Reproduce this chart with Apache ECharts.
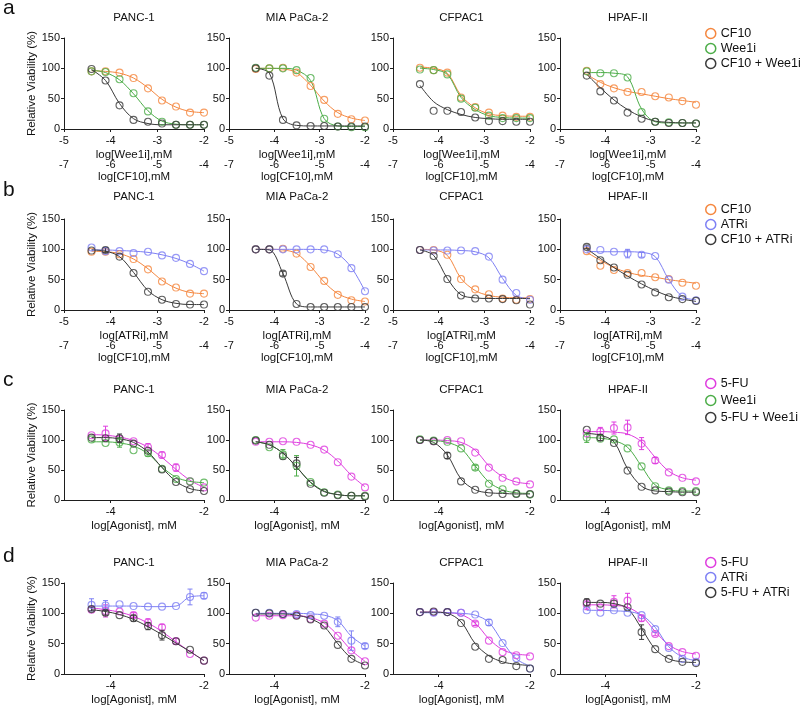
<!DOCTYPE html>
<html>
<head>
<meta charset="utf-8">
<script src="https://cdn.jsdelivr.net/npm/echarts@6/dist/echarts.min.js"></script>
<style>
html,body{margin:0;padding:0;background:#fff;}
#chart{width:800px;height:711px;}
</style>
</head>
<body>
<div id="chart"></div>
<script>
// ---------- shared axis values ----------
const xLogConc = [-4.41, -4.11, -3.81, -3.51, -3.20, -2.90, -2.60, -2.30, -2.00];
const cellLines = ['PANC-1', 'MIA PaCa-2', 'CFPAC1', 'HPAF-II'];
const panelLetters = ['a', 'b', 'c', 'd'];
const xTicksInhibitor = [-5, -4, -3, -2];
const xTicksCF10 = [-7, -6, -5, -4];
const xTicksAgonist = [-4, -2];
const yTicks = [0, 50, 100, 150];

// ---------- row a : CF10 / Wee1i ----------
const aCF10 = [
  [95, 95, 93, 84, 67, 47, 37, 27, 27],
  [99, 100, 101, 93, 71, 48, 25, 16, 14],
  [101, 97, 93, 52, 36, 27, 22, 20, 20],
  [96, 74, 67, 61, 61, 54, 52, 46, 40]
];
const aCF10Fit = [
  [96, 95, 92, 84, 68, 49, 36, 29, 27],
  [100, 100, 99, 93, 72, 46, 27, 18, 14],
  [102, 100, 92, 55, 35, 25, 22, 21, 21],
  [90, 77, 68, 62, 58, 54, 50, 47, 44]
];
const aWee1i = [
  [95, 94, 82, 59, 29, 12, 7, 7, 7],
  [101, 100, 100, 97, 84, 17, 4, 3, 3],
  [98, 97, 90, 50, 35, 22, 18, 18, 18],
  [95, 92, 92, 85, 28, 12, 11, 10, 9]
];
const aWee1iFit = [
  [97, 93, 81, 58, 30, 13, 8, 7, 7],
  [100, 100, 100, 97, 80, 17, 5, 4, 4],
  [100, 98, 90, 52, 32, 22, 19, 18, 18],
  [93, 93, 92, 86, 33, 12, 10, 10, 10]
];
const aCombo = [
  [99, 80, 39, 15, 12, 9, 7, 7, 7],
  [100, 88, 15, 6, 5, 5, 4, 4, 4],
  [74, 30, 30, 28, 19, 13, 13, 12, 12],
  [88, 62, 47, 27, 17, 12, 10, 10, 9]
];
const aComboFit = [
  [98, 80, 42, 17, 9, 7, 7, 7, 7],
  [100, 92, 17, 6, 5, 5, 5, 5, 5],
  [72, 45, 32, 24, 19, 17, 16, 16, 16],
  [90, 68, 48, 32, 20, 13, 11, 10, 10]
];

// ---------- row b : CF10 / ATRi ----------
const bCF10 = [
  [96, 96, 92, 84, 67, 47, 37, 27, 27],
  [100, 100, 101, 93, 71, 48, 25, 16, 14],
  [99, 99, 91, 51, 34, 26, 19, 17, 18],
  [97, 73, 66, 61, 61, 54, 51, 45, 40]
];
const bCF10Fit = [
  [97, 96, 93, 84, 68, 49, 36, 29, 27],
  [100, 100, 99, 93, 72, 46, 27, 18, 14],
  [100, 99, 90, 52, 32, 24, 21, 20, 20],
  [95, 82, 70, 62, 57, 54, 50, 47, 44]
];
const bATRi = [
  [103, 97, 97, 94, 96, 90, 86, 76, 64],
  [100, 100, 100, 100, 100, 100, 92, 69, 31],
  [99, 98, 98, 98, 97, 88, 50, 28, 17],
  [100, 99, 96, 93, 91, 89, 50, 22, 16]
];
const bATRiFit = [
  [99, 99, 98, 97, 95, 91, 85, 76, 64],
  [100, 100, 100, 100, 100, 99, 92, 70, 31],
  [99, 99, 99, 98, 96, 86, 52, 24, 18],
  [97, 96, 96, 96, 95, 88, 50, 22, 17]
];
const bATRiErr = [
  [0, 0, 0, 0, 0, 0, 0, 0, 0],
  [0, 0, 0, 0, 0, 0, 0, 0, 0],
  [0, 0, 0, 0, 0, 0, 0, 0, 0],
  [0, 0, 0, 7, 4, 0, 0, 0, 0]
];
const bCombo = [
  [98, 99, 88, 61, 30, 17, 10, 9, 9],
  [100, 100, 60, 10, 5, 5, 5, 5, 5],
  [99, 89, 51, 24, 19, 19, 18, 16, 9],
  [104, 82, 70, 58, 42, 29, 21, 18, 15]
];
const bComboFit = [
  [99, 97, 88, 62, 32, 17, 11, 9, 9],
  [100, 99, 60, 10, 5, 5, 5, 5, 5],
  [99, 90, 52, 25, 20, 19, 19, 19, 19],
  [101, 85, 70, 56, 43, 32, 23, 18, 14]
];
const bComboErr = [
  [0, 4, 0, 0, 0, 0, 0, 0, 0],
  [0, 0, 4, 0, 0, 0, 0, 0, 0],
  [0, 0, 0, 0, 0, 0, 0, 0, 0],
  [3, 0, 0, 0, 0, 0, 0, 0, 0]
];

// ---------- row c : 5-FU / Wee1i ----------
const c5FU = [
  [108, 111, 102, 98, 88, 75, 54, 31, 21],
  [97, 97, 98, 97, 92, 84, 63, 39, 21],
  [100, 98, 100, 98, 79, 54, 37, 31, 26],
  [111, 114, 120, 121, 94, 66, 46, 37, 31]
];
const c5FUFit = [
  [109, 108, 105, 99, 88, 71, 51, 33, 21],
  [97, 97, 97, 96, 92, 83, 65, 41, 22],
  [100, 100, 99, 96, 83, 57, 39, 30, 27],
  [114, 114, 113, 110, 97, 71, 48, 37, 33]
];
const c5FUErr = [
  [0, 12, 0, 0, 6, 5, 6, 0, 0],
  [0, 0, 0, 0, 0, 0, 0, 0, 0],
  [0, 0, 0, 0, 0, 0, 0, 0, 0],
  [0, 7, 10, 12, 10, 5, 0, 0, 0]
];
const cWee1i = [
  [101, 95, 96, 83, 78, 52, 35, 31, 29],
  [100, 88, 76, 57, 30, 13, 9, 7, 7],
  [101, 99, 97, 86, 54, 27, 18, 11, 9],
  [104, 102, 101, 86, 56, 23, 16, 15, 15]
];
const cWee1iFit = [
  [97, 97, 95, 90, 77, 55, 38, 31, 29],
  [97, 92, 78, 55, 30, 15, 9, 7, 7],
  [100, 99, 96, 86, 57, 30, 17, 12, 11],
  [104, 103, 99, 88, 56, 25, 17, 15, 15]
];
const cWee1iErr = [
  [0, 0, 8, 0, 5, 0, 0, 0, 0],
  [0, 0, 8, 17, 0, 0, 0, 0, 0],
  [0, 0, 0, 0, 4, 0, 0, 0, 0],
  [8, 0, 0, 0, 0, 0, 0, 0, 0]
];
const cCombo = [
  [104, 103, 103, 94, 82, 51, 30, 18, 15],
  [99, 92, 73, 61, 27, 12, 8, 7, 6],
  [100, 98, 74, 31, 17, 12, 10, 10, 10],
  [117, 104, 95, 49, 22, 16, 14, 13, 13]
];
const cComboFit = [
  [104, 104, 102, 96, 80, 54, 31, 19, 15],
  [97, 92, 78, 55, 29, 14, 9, 7, 7],
  [100, 96, 75, 35, 17, 12, 11, 10, 10],
  [111, 108, 97, 52, 23, 15, 14, 13, 13]
];
const cComboErr = [
  [0, 0, 7, 0, 0, 0, 0, 0, 0],
  [0, 0, 0, 10, 0, 0, 0, 0, 0],
  [0, 0, 5, 0, 0, 0, 0, 0, 0],
  [0, 5, 0, 0, 0, 0, 0, 0, 0]
];

// ---------- row d : 5-FU / ATRi ----------
const d5FU = [
  [106, 104, 103, 97, 85, 77, 54, 33, 22],
  [93, 96, 97, 97, 91, 83, 63, 39, 21],
  [102, 102, 102, 101, 83, 55, 36, 31, 29],
  [114, 110, 119, 121, 92, 66, 46, 36, 30]
];
const d5FUFit = [
  [109, 106, 102, 95, 84, 70, 53, 37, 22],
  [96, 96, 96, 96, 93, 84, 64, 39, 21],
  [102, 102, 101, 98, 84, 58, 40, 33, 31],
  [114, 114, 113, 110, 96, 70, 48, 37, 33]
];
const d5FUErr = [
  [0, 10, 0, 4, 6, 5, 5, 0, 0],
  [0, 0, 0, 0, 0, 0, 0, 0, 0],
  [0, 0, 0, 0, 3, 0, 0, 0, 0],
  [8, 0, 10, 12, 5, 3, 0, 0, 0]
];
const dATRi = [
  [114, 113, 115, 112, 111, 111, 112, 127, 129],
  [101, 101, 99, 99, 97, 96, 86, 55, 46],
  [102, 101, 102, 101, 98, 85, 51, 26, 9],
  [105, 101, 105, 101, 97, 74, 43, 25, 20]
];
const dATRiFit = [
  [112, 112, 112, 112, 111, 111, 112, 127, 129],
  [100, 100, 100, 100, 99, 97, 88, 62, 46],
  [101, 101, 101, 100, 97, 85, 53, 25, 13],
  [105, 105, 104, 103, 97, 77, 45, 28, 22]
];
const dATRiErr = [
  [10, 8, 0, 0, 0, 0, 0, 13, 5],
  [0, 0, 0, 0, 0, 0, 8, 16, 4],
  [0, 0, 0, 0, 0, 5, 0, 0, 0],
  [0, 0, 0, 0, 0, 0, 0, 0, 0]
];
const dCombo = [
  [107, 101, 97, 92, 79, 64, 54, 40, 22],
  [101, 100, 99, 96, 90, 80, 48, 25, 14],
  [102, 103, 102, 84, 45, 25, 23, 13, 9],
  [118, 116, 116, 110, 69, 41, 25, 20, 18]
];
const dComboFit = [
  [106, 103, 98, 90, 78, 65, 51, 37, 22],
  [99, 99, 99, 97, 91, 78, 50, 26, 15],
  [102, 102, 100, 86, 50, 30, 20, 16, 14],
  [118, 118, 116, 108, 75, 41, 25, 20, 19]
];
const dComboErr = [
  [3, 4, 0, 5, 6, 8, 0, 0, 0],
  [0, 0, 0, 0, 0, 0, 0, 0, 0],
  [0, 0, 0, 0, 0, 0, 0, 0, 0],
  [6, 0, 0, 0, 12, 0, 0, 0, 0]
];

// ---------- styling / layout ----------
const ORANGE = '#f5873f', GREEN = '#4cad48', DARK = '#3a3a3a', BLUE = '#7e80f4', MAGENTA = '#df3ddf';
const FONT = "'Liberation Sans', Arial, sans-serif";
const AX = '#1e1e1e';
const cols = [{left: 64, width: 140}, {left: 229, width: 136}, {left: 393, width: 137}, {left: 560, width: 136}];
const rowsLayout = [
  {top: 38, height: 91, titleY: 18, letterY: 8, legendTop: 27, legendGap: 2},
  {top: 219, height: 91, titleY: 197, letterY: 190, legendTop: 203, legendGap: 2},
  {top: 410, height: 90, titleY: 390, letterY: 380, legendTop: 377, legendGap: 4},
  {top: 583, height: 91, titleY: 563, letterY: 556, legendTop: 556, legendGap: 2}
];

const rowDefs = [
  {xName: 'log[Wee1i],mM', dual: true, series: [
    {name: 'CF10', color: ORANGE, pts: aCF10, fit: aCF10Fit},
    {name: 'Wee1i', color: GREEN, pts: aWee1i, fit: aWee1iFit},
    {name: 'CF10 + Wee1i', color: DARK, pts: aCombo, fit: aComboFit}]},
  {xName: 'log[ATRi],mM', dual: true, series: [
    {name: 'CF10', color: ORANGE, pts: bCF10, fit: bCF10Fit},
    {name: 'ATRi', color: BLUE, pts: bATRi, fit: bATRiFit, err: bATRiErr},
    {name: 'CF10 + ATRi', color: DARK, pts: bCombo, fit: bComboFit, err: bComboErr}]},
  {xName: 'log[Agonist], mM', dual: false, series: [
    {name: '5-FU', color: MAGENTA, pts: c5FU, fit: c5FUFit, err: c5FUErr},
    {name: 'Wee1i', color: GREEN, pts: cWee1i, fit: cWee1iFit, err: cWee1iErr},
    {name: '5-FU + Wee1i', color: DARK, pts: cCombo, fit: cComboFit, err: cComboErr}]},
  {xName: 'log[Agonist], mM', dual: false, series: [
    {name: '5-FU', color: MAGENTA, pts: d5FU, fit: d5FUFit, err: d5FUErr},
    {name: 'ATRi', color: BLUE, pts: dATRi, fit: dATRiFit, err: dATRiErr},
    {name: '5-FU + ATRi', color: DARK, pts: dCombo, fit: dComboFit, err: dComboErr}]}
];

const grid = [], xAxis = [], yAxis = [], series = [], legend = [], graphic = [];
const labelStyle = {fontSize: 11, color: '#111', fontFamily: FONT};

rowDefs.forEach((row, r) => {
  const L = rowsLayout[r];
  graphic.push({type: 'text', x: 3, y: L.letterY, style: {text: panelLetters[r], fontSize: 21, fontFamily: FONT, fill: '#111', align: 'left', verticalAlign: 'middle'}});
  cols.forEach((c, p) => {
    const g = grid.length;
    grid.push({left: c.left, top: L.top, width: c.width, height: L.height, containLabel: false});
    graphic.push({type: 'text', x: c.left + c.width / 2, y: L.titleY, style: {text: cellLines[p], fontSize: 11.5, fontFamily: FONT, fill: '#111', align: 'center', verticalAlign: 'middle'}});
    const xi = xAxis.length;
    const primary = {
      gridIndex: g, type: 'value', min: -5, max: -2, position: 'bottom',
      axisLine: {show: true, onZero: false, lineStyle: {color: AX, width: 1}},
      axisTick: {show: true, length: 3, lineStyle: {color: AX}},
      axisLabel: Object.assign({margin: 6}, labelStyle),
      splitLine: {show: false},
      name: row.xName, nameLocation: 'middle', nameGap: 20,
      nameTextStyle: {fontSize: 11.5, color: '#111', fontFamily: FONT}
    };
    if (row.dual) {
      primary.interval = 1;
    } else {
      primary.axisTick.customValues = xTicksAgonist;
      primary.axisLabel.customValues = xTicksAgonist;
    }
    xAxis.push(primary);
    if (row.dual) {
      xAxis.push({
        gridIndex: g, type: 'value', min: xTicksCF10[0], max: xTicksCF10[3], interval: 1,
        position: 'bottom', offset: 24,
        axisLine: {show: false, onZero: false}, axisTick: {show: false},
        axisLabel: Object.assign({margin: 6}, labelStyle),
        splitLine: {show: false},
        name: 'log[CF10],mM', nameLocation: 'middle', nameGap: 18,
        nameTextStyle: {fontSize: 11.5, color: '#111', fontFamily: FONT}
      });
    }
    yAxis.push({
      gridIndex: g, type: 'value', min: yTicks[0], max: yTicks[3], interval: 50,
      axisLine: {show: true, onZero: false, lineStyle: {color: AX, width: 1}},
      axisTick: {show: true, length: 3, lineStyle: {color: AX}},
      axisLabel: Object.assign({margin: 4}, labelStyle),
      splitLine: {show: false},
      name: p === 0 ? 'Relative Viability (%)' : '',
      nameLocation: 'middle', nameGap: 25, nameRotate: 90,
      nameTextStyle: {fontSize: 11.5, color: '#111', fontFamily: FONT}
    });
    row.series.forEach((s, k) => {
      const z = 3 + k;
      series.push({
        type: 'line', name: s.name, xAxisIndex: xi, yAxisIndex: g,
        data: xLogConc.map((x, i) => [x, s.fit[p][i]]),
        smooth: 0.35, showSymbol: false, silent: true, z: z,
        lineStyle: {color: s.color, width: 1}, itemStyle: {color: s.color}
      });
      if (s.err) {
        const errData = [];
        xLogConc.forEach((x, i) => {
          const e = s.err[p][i];
          if (e > 0) errData.push([x, s.pts[p][i] - e, s.pts[p][i] + e]);
        });
        if (errData.length) {
          const col = s.color;
          series.push({
            type: 'custom', xAxisIndex: xi, yAxisIndex: g, silent: true, z: z,
            data: errData, encode: {x: 0, y: [1, 2]},
            renderItem: (params, api) => {
              const x = api.value(0);
              const p1 = api.coord([x, api.value(1)]);
              const p2 = api.coord([x, api.value(2)]);
              const w = 2.5;
              const st = {stroke: col, lineWidth: 1};
              return {type: 'group', children: [
                {type: 'line', shape: {x1: p1[0], y1: p1[1], x2: p2[0], y2: p2[1]}, style: st},
                {type: 'line', shape: {x1: p1[0] - w, y1: p1[1], x2: p1[0] + w, y2: p1[1]}, style: st},
                {type: 'line', shape: {x1: p2[0] - w, y1: p2[1], x2: p2[0] + w, y2: p2[1]}, style: st}
              ]};
            }
          });
        }
      }
      series.push({
        type: 'scatter', name: s.name, xAxisIndex: xi, yAxisIndex: g,
        data: xLogConc.map((x, i) => [x, s.pts[p][i]]),
        symbol: 'circle', symbolSize: 7, z: z + 1, silent: true,
        itemStyle: {color: 'rgba(255,255,255,0)', borderColor: s.color, borderWidth: 1.1}
      });
    });
  });
  legend.push({
    orient: 'vertical', left: 705, top: L.legendTop, padding: 0,
    itemWidth: 10, itemHeight: 10, itemGap: L.legendGap, selectedMode: false,
    textStyle: {fontSize: 12.5, color: '#111', fontFamily: FONT},
    data: row.series.map(s => ({name: s.name, icon: 'circle',
      itemStyle: {color: 'rgba(255,255,255,0)', borderColor: s.color, borderWidth: 1.5}}))
  });
});

const chart = echarts.init(document.getElementById('chart'), null, {renderer: 'canvas'});
chart.setOption({
  animation: false,
  backgroundColor: '#fff',
  textStyle: {fontFamily: FONT},
  grid, xAxis, yAxis, series, legend, graphic
});
</script>
</body>
</html>
